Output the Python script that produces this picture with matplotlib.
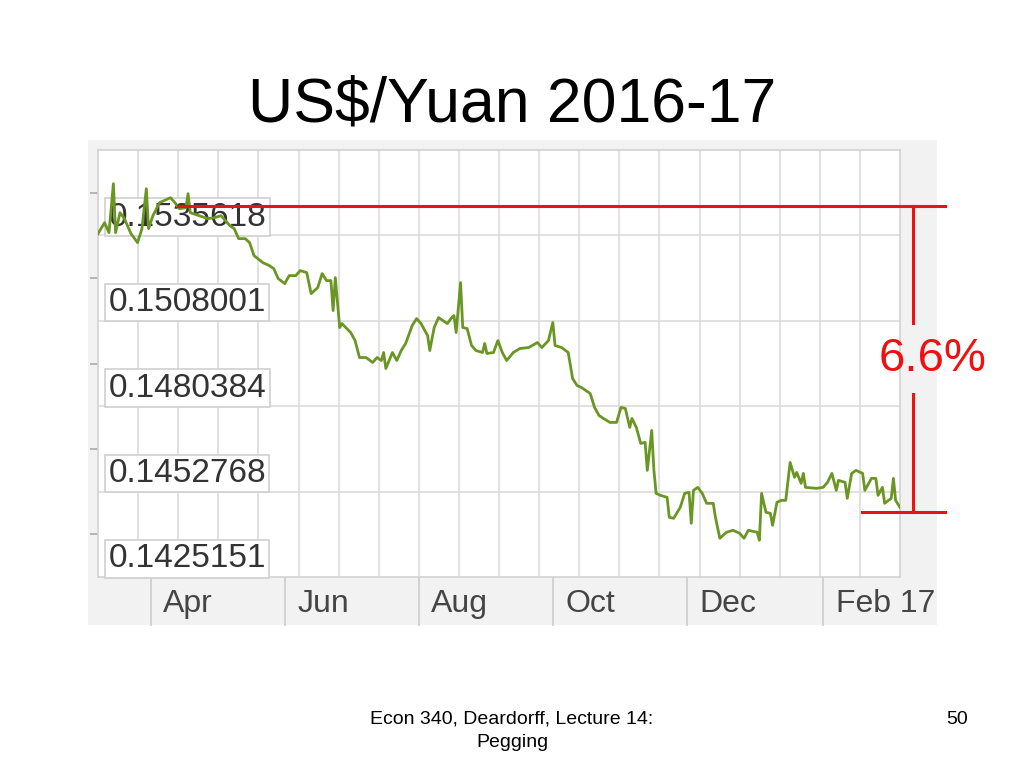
import matplotlib
matplotlib.use("Agg")
import matplotlib.pyplot as plt
import matplotlib.transforms as mtransforms
from matplotlib.patches import Rectangle
from datetime import date

plt.rcParams['font.family'] = ['Liberation Sans', 'DejaVu Sans']

# ---------------- data ----------------
START = date(2016, 3, 8)          # left edge of the chart (day 0)
END_DAY = 365                      # right edge of the chart

# day offsets from START
days = [0, 3, 5, 7, 8, 10, 12, 15, 18, 20, 22, 23, 25, 28, 30, 33, 35, 37, 40, 41,
        42, 46, 50, 53, 56, 60, 62, 64, 67, 69, 71, 75, 78, 80, 82, 85, 87, 90,
        92, 95, 97, 100, 102, 104, 106, 107, 108, 110, 111, 115, 117, 119, 122, 125,
        127, 129, 130, 131, 134, 136, 138, 140, 143, 145, 147, 150, 151, 153, 155, 159,
        161, 162, 163, 165, 166, 168, 170, 172, 175, 176, 177, 180, 182, 184, 186, 189,
        192, 196, 200, 202, 205, 207, 208, 211, 214, 216,
        218, 220, 224, 226, 228, 230, 233, 236, 238, 240, 242, 243, 245, 247, 249, 250,
        252, 253, 254, 256, 259, 260, 262, 265, 267, 269, 270, 271, 273, 275, 277, 280,
        281, 283, 286, 289, 292, 294, 296, 300, 301,
        302, 304, 306, 307, 309, 311, 313, 315, 317, 318, 320, 321, 322, 327, 330, 332,
        334, 336, 337, 340, 341, 343, 345, 348, 349, 352, 354, 355, 357, 358, 361, 362,
        363, 365]

# US$ per yuan
rate = [0.152238, 0.152593, 0.152270, 0.153853, 0.152270, 0.152916, 0.152722, 0.152238,
        0.151947, 0.152399, 0.153691, 0.152399, 0.152819, 0.153239, 0.153304, 0.153400,
        0.153239, 0.153045, 0.153077, 0.153529,
        0.152916, 0.152819, 0.152722, 0.152754, 0.152819, 0.152496, 0.152399, 0.152076,
        0.152076, 0.151947, 0.151527, 0.151301, 0.151204, 0.151107, 0.150784, 0.150623,
        0.150881, 0.150881,
        0.151043, 0.150978, 0.150299, 0.150493, 0.150946, 0.150719, 0.150719, 0.149750,
        0.150816, 0.149201, 0.149330, 0.149040, 0.148781, 0.148232, 0.148232, 0.148071,
        0.148232, 0.148135, 0.148394, 0.147877, 0.148394, 0.148135, 0.148458, 0.148685,
        0.149266, 0.149492, 0.149330, 0.148943, 0.148458, 0.149201, 0.149524, 0.149330,
        0.149524, 0.149589, 0.149040, 0.150655, 0.149201, 0.149169, 0.148620, 0.148458,
        0.148394, 0.148685, 0.148362, 0.148394, 0.148781, 0.148394, 0.148135, 0.148394,
        0.148523, 0.148555, 0.148717, 0.148555, 0.148781, 0.149363, 0.148620, 0.148555,
        0.148394, 0.147554,
        0.147328, 0.147263, 0.147070, 0.146617, 0.146359, 0.146262, 0.146133, 0.146133,
        0.146617, 0.146585, 0.145972, 0.146262, 0.145972, 0.145455, 0.145487, 0.144582,
        0.145875, 0.144582, 0.143839, 0.143775, 0.143710, 0.143064, 0.143032, 0.143387,
        0.143839, 0.143872, 0.142871, 0.143936, 0.144033, 0.143839, 0.143517, 0.143517,
        0.143064, 0.142386, 0.142580, 0.142645, 0.142548, 0.142386, 0.142645, 0.142580,
        0.142322,
        0.143839, 0.143226, 0.143194, 0.142806, 0.143549, 0.143613, 0.143613, 0.144841,
        0.144356, 0.144518, 0.144162, 0.144485, 0.144033, 0.144001, 0.144033, 0.144195,
        0.144485, 0.143936, 0.144259, 0.144195, 0.143678, 0.144485, 0.144582, 0.144485,
        0.143936, 0.144324, 0.144324, 0.143775, 0.144033, 0.143517, 0.143678, 0.144324,
        0.143613, 0.143387]

y_tick_values = [0.1535618, 0.1508001, 0.1480384, 0.1452768, 0.1425151]
y_tick_labels = ['0.1535618', '0.1508001', '0.1480384', '0.1452768', '0.1425151']

month_dates = [date(2016, 4, 1), date(2016, 6, 1), date(2016, 8, 1),
               date(2016, 10, 1), date(2016, 12, 1), date(2017, 2, 1)]
month_labels = ['Apr', 'Jun', 'Aug', 'Oct', 'Dec', 'Feb 17']

peak_rate = 0.153142   # upper red reference line
last_rate = 0.143226   # lower red reference line
drop_text = '6.6%'
label_rate = 0.148200  # vertical position of the 6.6% label

title = 'US$/Yuan 2016-17'
footer = 'Econ 340, Deardorff, Lecture 14:'
footer2 = 'Pegging'
page = '50'

assert len(days) == len(rate)

# ---------------- figure ----------------
W, H = 1024, 768
fig = plt.figure(figsize=(W / 100, H / 100), dpi=100)
fig.patch.set_facecolor('white')

def fx(px):
    return px / W

def fy(py):
    return 1 - py / H

# gray chart panel (behind the axes)
fig.patches.append(Rectangle((fx(88), fy(625)), fx(937) - fx(88), fy(140) - fy(625),
                             transform=fig.transFigure, facecolor='#f2f2f2',
                             edgecolor='none', zorder=-5))

ax = fig.add_axes([fx(98), fy(577), fx(900) - fx(98), fy(150) - fy(577)])
ax.set_zorder(2)
ax.set_facecolor('white')

step = y_tick_values[0] - y_tick_values[1]
ax.set_xlim(0, END_DAY)
ax.set_ylim(y_tick_values[-1] - step / 2, y_tick_values[0] + step / 2)

grid_c = '#dcdcdc'
for i in range(1, 20):
    ax.axvline(END_DAY * i / 20, color=grid_c, lw=1.2, zorder=1)
for v in y_tick_values[:-1]:
    ax.axhline(v - step / 2, color=grid_c, lw=1.2, zorder=1)

for s in ax.spines.values():
    s.set_color('#d2d2d2')
    s.set_linewidth(1.2)

# y ticks (short marks on the left), labels drawn as boxes inside the plot
ax.set_yticks(y_tick_values)
ax.set_yticklabels([''] * len(y_tick_values))
ax.tick_params(axis='y', direction='out', length=6, width=1.2, color='#aaaaaa')

# x ticks = long separators in the label band
month_days = [(d - START).days for d in month_dates]
ax.set_xticks(month_days)
ax.set_xticklabels([''] * len(month_days))
ax.tick_params(axis='x', direction='out', length=35, width=1.2, color='#cccccc')

blend_xd = mtransforms.blended_transform_factory(ax.transData, ax.transAxes)
for d, lab in zip(month_days, month_labels):
    ax.annotate(lab, xy=(d, 0), xycoords=blend_xd, xytext=(9, -19.5),
                textcoords='offset points', ha='left', va='center',
                fontsize=23, color='#454545', annotation_clip=False)

blend_ad = mtransforms.blended_transform_factory(ax.transAxes, ax.transData)
for v, lab in zip(y_tick_values, y_tick_labels):
    ax.annotate(lab, xy=(0, v), xycoords=blend_ad, xytext=(7.5, -6.5),
                textcoords='offset points', ha='left', va='top',
                fontsize=24, color='#333333', zorder=3,
                bbox=dict(boxstyle='square,pad=0.1', facecolor='white',
                          edgecolor='#cfcfcf', linewidth=1.2))

# the exchange-rate line
ax.plot(days, rate, color='#6a9624', lw=2.0, zorder=5, solid_joinstyle='round')

# red annotation lines
red = '#ee1111'
ax.plot([0.0998, 1.056], [peak_rate, peak_rate], color=red, lw=2.2,
        transform=blend_ad, clip_on=False, zorder=6)
ax.plot([0.9526, 1.056], [last_rate, last_rate], color=red, lw=2.2,
        transform=blend_ad, clip_on=False, zorder=6)
gap = step * 0.41
ax.plot([1.0162, 1.0162], [peak_rate, label_rate + gap], color=red, lw=2.2,
        transform=blend_ad, clip_on=False, zorder=6)
ax.plot([1.0162, 1.0162], [label_rate - gap, last_rate], color=red, lw=2.2,
        transform=blend_ad, clip_on=False, zorder=6)
ax.text(1.040, label_rate, drop_text, transform=blend_ad, ha='center', va='center',
        fontsize=34, color=red, zorder=7)

# slide texts
fig.text(0.5, fy(122), title, ha='center', va='baseline', fontsize=45, color='black')
fig.text(0.5, fy(724), footer, ha='center', va='baseline', fontsize=14, color='black')
fig.text(0.5, fy(747), footer2, ha='center', va='baseline', fontsize=14, color='black')
fig.text(fx(957), fy(724), page, ha='center', va='baseline', fontsize=14, color='black')

fig.savefig('out.png', dpi=100, facecolor='white')
